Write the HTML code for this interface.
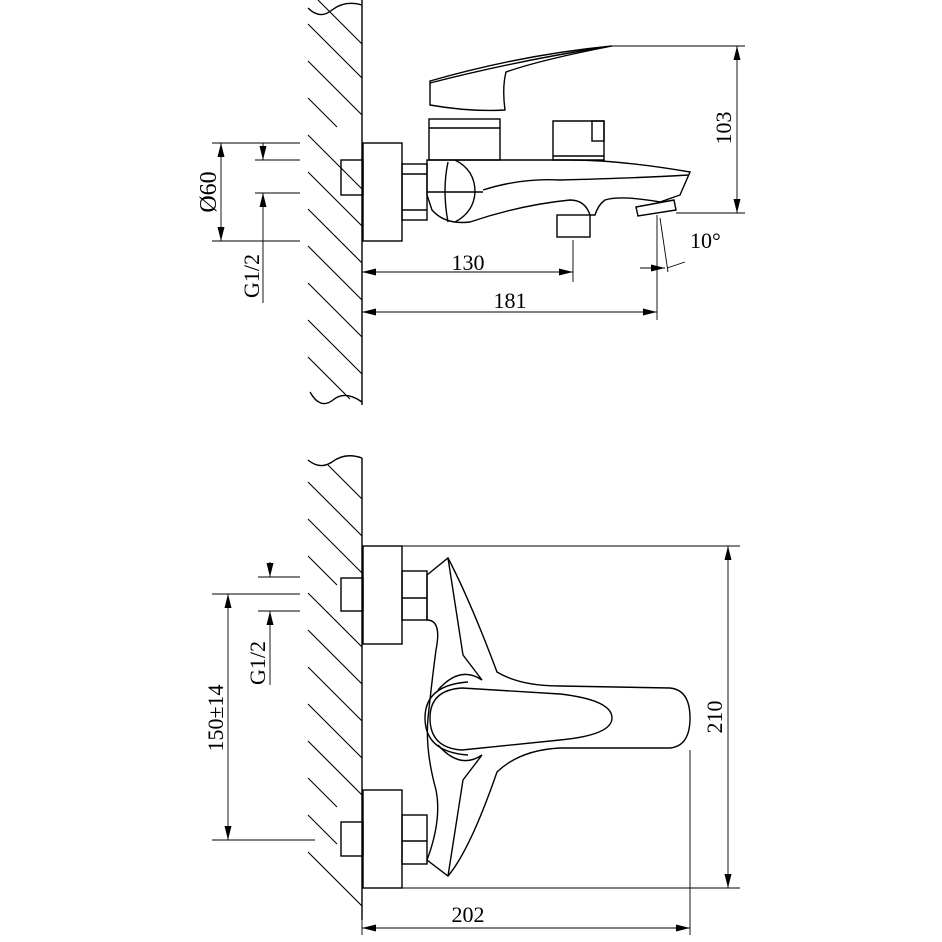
<!DOCTYPE html>
<html><head><meta charset="utf-8"><style>html,body{margin:0;padding:0;background:#fff}svg{display:block}</style></head>
<body>
<svg width="942" height="942" viewBox="0 0 942 942" xmlns="http://www.w3.org/2000/svg" font-family="Liberation Serif, serif">
<defs>
<marker id="a" viewBox="0 0 14 7" refX="14" refY="3.5" markerWidth="14" markerHeight="7" orient="auto-start-reverse" markerUnits="userSpaceOnUse"><path d="M0,0L14,3.5L0,7z" fill="#000"/></marker>
</defs>
<g fill="none" stroke="#000" stroke-width="1.4">
<line x1="362" y1="0" x2="362" y2="405"/>
<path d="M308,8 Q320,20 332,10 Q345,0 362,5"/>
<path d="M310,392 Q320,410 333,400 Q345,390 362,402"/>
<g stroke-width="1.1">
<line x1="318" y1="0" x2="362" y2="44"/>
<line x1="308" y1="24" x2="362" y2="78"/>
<line x1="308" y1="61" x2="362" y2="115"/>
<line x1="308" y1="98" x2="337" y2="127"/>
<line x1="308" y1="135" x2="362" y2="189"/>
<line x1="308" y1="172" x2="362" y2="226"/>
<line x1="308" y1="209" x2="362" y2="263"/>
<line x1="308" y1="246" x2="362" y2="300"/>
<line x1="308" y1="283" x2="362" y2="337"/>
<line x1="308" y1="320" x2="362" y2="374"/>
<line x1="308" y1="357" x2="350" y2="399"/>
</g>
<line x1="362" y1="458" x2="362" y2="920"/>
<path d="M308,460 Q320,470 332,462 Q345,452 362,458"/>
<g stroke-width="1.1">
<line x1="328" y1="465" x2="362" y2="499"/>
<line x1="308" y1="482" x2="362" y2="536"/>
<line x1="308" y1="519" x2="362" y2="573"/>
<line x1="308" y1="556" x2="337" y2="585"/>
<line x1="308" y1="593" x2="362" y2="647"/>
<line x1="308" y1="630" x2="362" y2="684"/>
<line x1="308" y1="667" x2="362" y2="721"/>
<line x1="308" y1="704" x2="362" y2="758"/>
<line x1="308" y1="741" x2="362" y2="795"/>
<line x1="308" y1="778" x2="337" y2="807"/>
<line x1="308" y1="815" x2="337" y2="844"/>
<line x1="308" y1="852" x2="362" y2="906"/>
</g>

<rect x="363" y="143" width="39" height="98"/>
<rect x="341" y="160" width="22" height="35"/>
<rect x="402" y="164" width="25" height="56"/>
<line x1="402" y1="174" x2="427" y2="174"/><line x1="402" y1="210" x2="427" y2="210"/>
<rect x="429" y="119" width="71" height="41"/>
<line x1="429" y1="128" x2="500" y2="128"/>
<path d="M430,81 Q520,55 612,46 Q540,60 506,72 Q502,88 505,110 Q470,112 430,105 Z"/>
<path d="M430,83 Q520,60 606,47"/>
<path d="M427,160 L570,160 Q620,160 690,172 L680,195 L660,202 Q620,195 605,200 Q598,205 595,215 L590,215 Q585,200 570,200 Q520,205 470,222 Q445,225 432,210 L427,195 Z"/>
<path d="M483,190 Q520,178 560,180 Q640,178 688,175"/>
<path d="M455,160 Q475,170 475,192 Q474,212 455,222"/>
<path d="M448,162 Q442,190 448,222"/>
<line x1="427" y1="192" x2="483" y2="192"/>
<rect x="557" y="215" width="33" height="22"/>
<path d="M636,207 L674,200 L676,210 L638,216 Z"/>
<path d="M553,121 L604,121 L604,160 L553,160 Z"/>
<line x1="553" y1="156" x2="604" y2="156"/>
<rect x="592" y="121" width="12" height="20"/>

<rect x="363" y="546" width="39" height="98"/>
<rect x="341" y="578" width="22" height="33"/>
<rect x="402" y="571" width="25" height="49"/>
<line x1="402" y1="598" x2="427" y2="598"/>
<rect x="363" y="790" width="39" height="98"/>
<rect x="341" y="822" width="22" height="34"/>
<rect x="402" y="815" width="25" height="49"/>
<line x1="402" y1="841" x2="427" y2="841"/>
<path d="M427,575 L448,558 Q470,600 497,672 Q520,686 560,686 L670,688 Q690,690 690,718 Q690,746 670,748 L560,748 Q520,750 497,772 Q470,850 448,876 L427,860 Q442,820 436,790 Q425,750 428,718 Q432,680 436,650 Q442,620 427,620 Z"/>
<path d="M448,558 L463,655 L482,680"/>
<path d="M448,876 L463,780 L482,755"/>
<path d="M438,690 Q460,665 482,680 M438,745 Q460,770 482,755"/>
<path d="M462,688 Q430,690 430,718 Q430,748 462,750 L560,740 Q612,735 612,718 Q612,700 560,694 Z"/>
<path d="M468,682 Q425,685 425,718 Q425,752 468,755"/>

<g stroke-width="0.9">
<line x1="612" y1="46" x2="745" y2="46"/>
<line x1="676" y1="213" x2="745" y2="213"/>
<line x1="737" y1="46" x2="737" y2="213" marker-start="url(#a)" marker-end="url(#a)"/>
<line x1="362" y1="272" x2="573" y2="272" marker-start="url(#a)" marker-end="url(#a)"/>
<line x1="573" y1="240" x2="573" y2="282"/>
<line x1="362" y1="312" x2="657" y2="312" marker-start="url(#a)" marker-end="url(#a)"/>
<line x1="657" y1="215" x2="657" y2="320"/>
<line x1="660" y1="218" x2="668" y2="272"/>
<line x1="640" y1="268" x2="665" y2="268" marker-end="url(#a)"/>
<line x1="685" y1="262" x2="667" y2="268"/>
<line x1="212" y1="143" x2="300" y2="143"/>
<line x1="212" y1="241" x2="300" y2="241"/>
<line x1="221" y1="143" x2="221" y2="241" marker-start="url(#a)" marker-end="url(#a)"/>
<line x1="255" y1="160" x2="300" y2="160"/>
<line x1="255" y1="193" x2="300" y2="193"/>
<line x1="263" y1="143" x2="263" y2="160" marker-end="url(#a)"/>
<line x1="263" y1="303" x2="263" y2="193" marker-end="url(#a)"/>
<line x1="402" y1="546" x2="740" y2="546"/>
<line x1="402" y1="888" x2="740" y2="888"/>
<line x1="728" y1="546" x2="728" y2="888" marker-start="url(#a)" marker-end="url(#a)"/>
<line x1="362" y1="888" x2="362" y2="935"/>
<line x1="690" y1="750" x2="690" y2="935"/>
<line x1="362" y1="928" x2="690" y2="928" marker-start="url(#a)" marker-end="url(#a)"/>
<line x1="212" y1="594" x2="300" y2="594"/>
<line x1="212" y1="840" x2="315" y2="840"/>
<line x1="228" y1="594" x2="228" y2="840" marker-start="url(#a)" marker-end="url(#a)"/>
<line x1="258" y1="577" x2="300" y2="577"/>
<line x1="258" y1="611" x2="300" y2="611"/>
<line x1="270" y1="562" x2="270" y2="577" marker-end="url(#a)"/>
<line x1="270" y1="685" x2="270" y2="611" marker-end="url(#a)"/>
</g>
</g>
<g font-size="22" fill="#000">
<text x="468" y="270" text-anchor="middle">130</text>
<text x="510" y="308" text-anchor="middle">181</text>
<text x="690" y="248">10°</text>
<text x="468" y="922" text-anchor="middle">202</text>
<text transform="translate(731,128) rotate(-90)" text-anchor="middle">103</text>
<text transform="translate(216,192) rotate(-90)" text-anchor="middle" font-size="24">Ø60</text>
<text transform="translate(259,276) rotate(-90)" text-anchor="middle">G1/2</text>
<text transform="translate(722,717) rotate(-90)" text-anchor="middle">210</text>
<text transform="translate(223,718) rotate(-90)" text-anchor="middle">150±14</text>
<text transform="translate(265,663) rotate(-90)" text-anchor="middle">G1/2</text>
</g>
</svg>
</body></html>
